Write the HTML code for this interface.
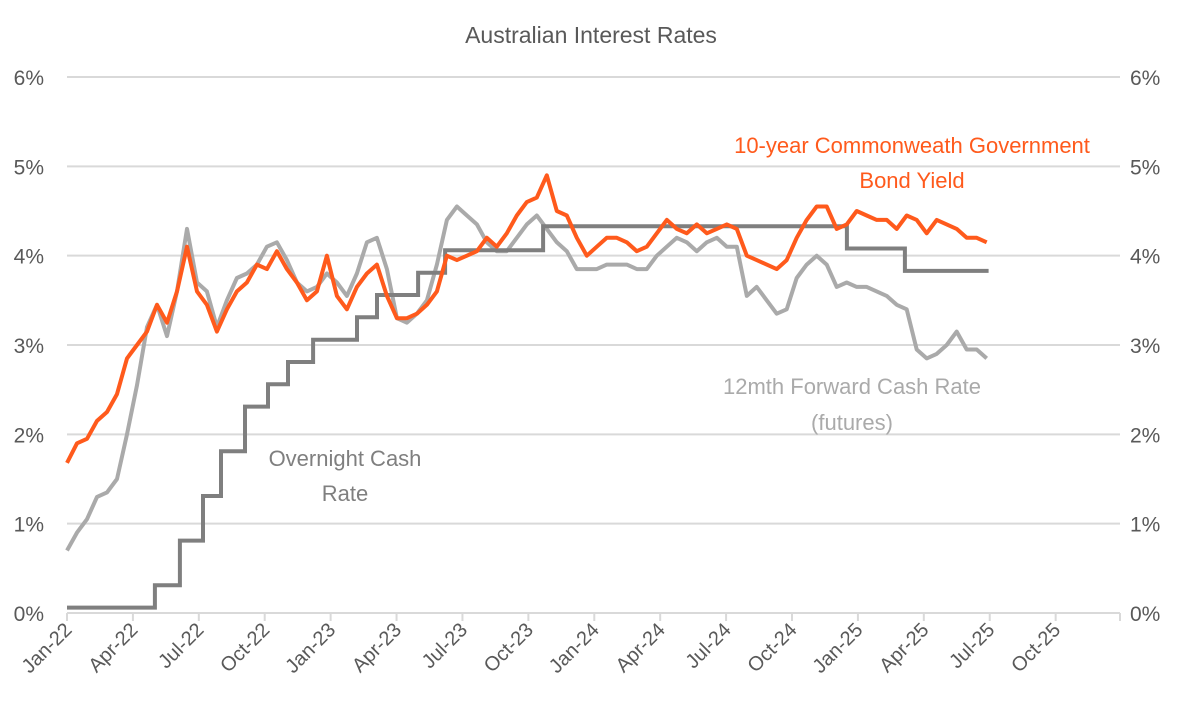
<!DOCTYPE html>
<html><head><meta charset="utf-8"><style>
body{margin:0;background:#fff;}
svg{display:block;font-family:"Liberation Sans",sans-serif;}
</style></head><body>
<svg id="chart" width="1182" height="709" viewBox="0 0 1182 709">
<text x="591" y="43" text-anchor="middle" font-size="23" fill="#595959">Australian Interest Rates</text>
<g id="grid"></g><g id="axes"></g><g id="series"></g>
<text x="912" y="153" text-anchor="middle" font-size="22" fill="#ff5a1c">10-year Commonweath Government</text>
<text x="912" y="188" text-anchor="middle" font-size="22" fill="#ff5a1c">Bond Yield</text>
<text x="852" y="394" text-anchor="middle" font-size="22" fill="#aaaaaa">12mth Forward Cash Rate</text>
<text x="852" y="430" text-anchor="middle" font-size="22" fill="#aaaaaa">(futures)</text>
<text x="345" y="466" text-anchor="middle" font-size="22" fill="#7f7f7f">Overnight Cash</text>
<text x="345" y="501" text-anchor="middle" font-size="22" fill="#7f7f7f">Rate</text>
</svg>
<script>
const xTickLabels=["Jan-22","Apr-22","Jul-22","Oct-22","Jan-23","Apr-23","Jul-23","Oct-23","Jan-24","Apr-24","Jul-24","Oct-24","Jan-25","Apr-25","Jul-25","Oct-25"];
const yTickLabels=["0%","1%","2%","3%","4%","5%","6%"];
const yTickValues=[0,1,2,3,4,5,6];
const seriesStepMonths=0.455;
const bondYield=[1.68,1.9,1.95,2.15,2.25,2.45,2.85,3.0,3.15,3.45,3.25,3.6,4.1,3.6,3.45,3.15,3.4,3.6,3.7,3.9,3.85,4.05,3.85,3.7,3.5,3.6,4.0,3.55,3.4,3.65,3.8,3.9,3.55,3.3,3.3,3.35,3.45,3.6,4.0,3.95,4.0,4.05,4.2,4.1,4.25,4.45,4.6,4.65,4.9,4.5,4.45,4.2,4.0,4.1,4.2,4.2,4.15,4.05,4.1,4.25,4.4,4.3,4.25,4.35,4.25,4.3,4.35,4.3,4.0,3.95,3.9,3.85,3.95,4.2,4.4,4.55,4.55,4.3,4.35,4.5,4.45,4.4,4.4,4.3,4.45,4.4,4.25,4.4,4.35,4.3,4.2,4.2,4.15];
const futuresRate=[0.7,0.9,1.05,1.3,1.35,1.5,2.0,2.55,3.2,3.45,3.1,3.6,4.3,3.7,3.6,3.2,3.5,3.75,3.8,3.9,4.1,4.15,3.95,3.7,3.6,3.65,3.8,3.7,3.55,3.8,4.15,4.2,3.85,3.3,3.25,3.35,3.5,3.9,4.4,4.55,4.45,4.35,4.15,4.05,4.05,4.2,4.35,4.45,4.3,4.15,4.05,3.85,3.85,3.85,3.9,3.9,3.9,3.85,3.85,4.0,4.1,4.2,4.15,4.05,4.15,4.2,4.1,4.1,3.55,3.65,3.5,3.35,3.4,3.75,3.9,4.0,3.9,3.65,3.7,3.65,3.65,3.6,3.55,3.45,3.4,2.95,2.85,2.9,3.0,3.15,2.95,2.95,2.85];
const cashChangeMonths=[0,4.0,5.14,6.19,7.01,8.10,9.15,10.06,11.20,13.2,14.11,15.98,17.21,21.67,35.5,38.14,41.95];
const cashRates=[0.06,0.31,0.81,1.31,1.81,2.31,2.56,2.81,3.06,3.31,3.56,3.81,4.06,4.33,4.08,3.83,3.83];
const NS="http://www.w3.org/2000/svg";
const X0=67,PXM=21.97,Y0=613,PXV=89.33;
const xs=m=>X0+m*PXM, ys=v=>Y0-v*PXV;
function mk(tag,attrs,parent){const e=document.createElementNS(NS,tag);for(const k in attrs)e.setAttribute(k,attrs[k]);parent.appendChild(e);return e;}
const grid=document.getElementById('grid'),axes=document.getElementById('axes'),ser=document.getElementById('series');
yTickValues.forEach((v,i)=>{
 if(v>0){const l=mk('line',{x1:67,x2:1120,y1:ys(v),y2:ys(v),stroke:'#d9d9d9','stroke-width':2},grid);
 
 }
 const t=mk('text',{x:44,y:ys(v)+8,'text-anchor':'end','font-size':21,fill:'#595959'},axes);t.textContent=yTickLabels[i];
 
 
 const t2=mk('text',{x:1130,y:ys(v)+8,'text-anchor':'start','font-size':21,fill:'#595959'},axes);t2.textContent=yTickLabels[i];
 
 
});
const ax=mk('line',{x1:67,x2:1120,y1:Y0,y2:Y0,stroke:'#d9d9d9','stroke-width':2},axes);


xTickLabels.forEach((lab,i)=>{
 const x=xs(i*3);
 const tk=mk('line',{x1:x,x2:x,y1:Y0,y2:Y0+8,stroke:'#d9d9d9','stroke-width':2},axes);
 
 
 const t=mk('text',{x:x+6,y:Y0+18,'text-anchor':'end','font-size':20,fill:'#595959',transform:`rotate(-45 ${x+6} ${Y0+18})`},axes);t.textContent=lab;
 
 
});
const endTick=mk('line',{x1:1120,x2:1120,y1:Y0,y2:Y0+8,stroke:'#d9d9d9','stroke-width':2},axes);


function linePath(arr){return arr.map((v,i)=>(i?'L':'M')+xs(i*seriesStepMonths).toFixed(1)+','+ys(v).toFixed(1)).join('');}
let cd='';
cashRates.forEach((v,i)=>{const x=xs(cashChangeMonths[i]);cd+=(i?'L'+x.toFixed(1)+','+ys(cashRates[i-1]).toFixed(1):'M'+x.toFixed(1)+','+ys(v).toFixed(1))+'L'+x.toFixed(1)+','+ys(v).toFixed(1);});
const fut=mk('path',{d:linePath(futuresRate),fill:'none',stroke:'#aaaaaa','stroke-width':4,'stroke-linejoin':'round'},ser);


const cash=mk('path',{d:cd,fill:'none',stroke:'#7f7f7f','stroke-width':4},ser);


const bond=mk('path',{d:linePath(bondYield),fill:'none',stroke:'#ff5a1c','stroke-width':4,'stroke-linejoin':'round'},ser);


</script>
</body></html>
